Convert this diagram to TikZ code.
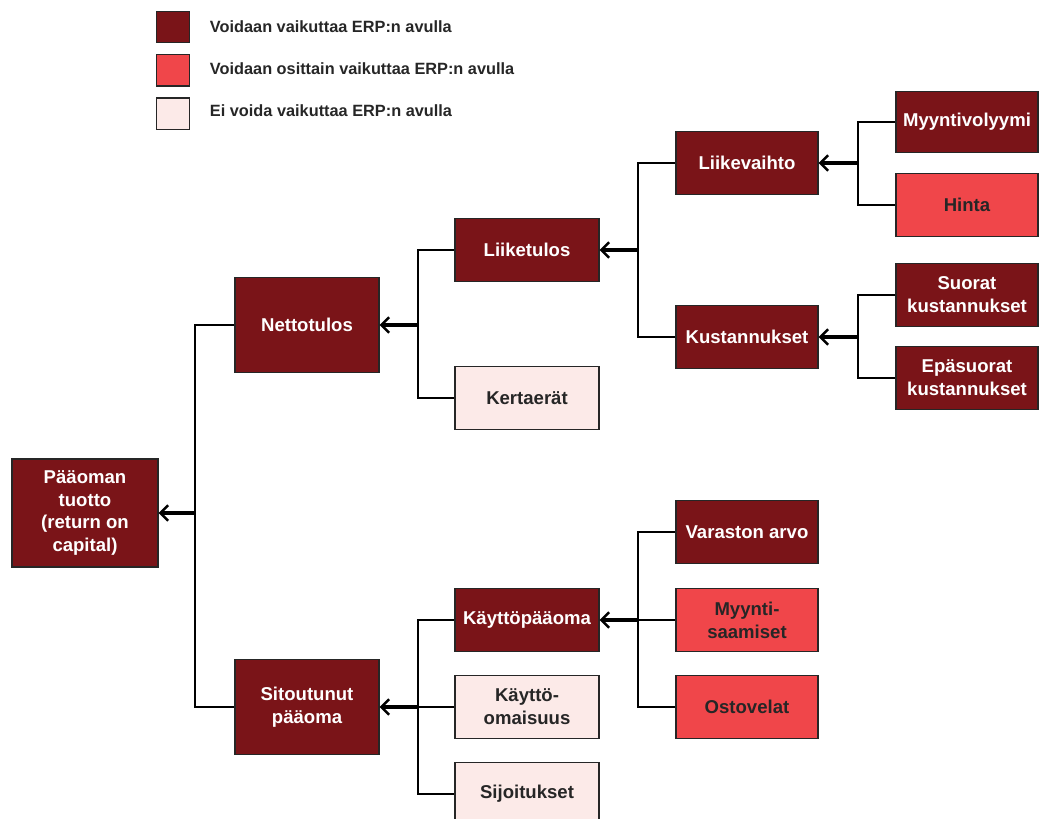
\documentclass[tikz,border=0pt]{standalone}
\usepackage{fontspec}
\setmainfont{Liberation Sans}
\usepackage{xcolor}
\usetikzlibrary{arrows.meta, positioning}

\definecolor{erpdark}{RGB}{122,20,24}
\definecolor{erpmid}{RGB}{240,70,74}
\definecolor{erplight}{RGB}{252,234,232}

\begin{document}
\begin{tikzpicture}[
        x=0.025cm, y=-0.025cm,
        box/.style={rectangle, draw=black!85, line width=0.9pt, align=center, inner sep=2pt,
            font=\bfseries\fontsize{13.2}{16.3}\selectfont, minimum width=3.6cm, minimum height=1.57cm},
        dark/.style={box, fill=erpdark, text=white},
        mid/.style={box, fill=erpmid, text=black!85},
        light/.style={box, fill=erplight, text=black!85},
        key/.style={rectangle, draw=black!85, line width=0.9pt, minimum width=0.82cm, minimum height=0.78cm},
        keytext/.style={anchor=west, font=\bfseries\fontsize{11.6}{14}\selectfont, text=black!85},
        wire/.style={draw, line width=1.6pt},
        line/.style={draw, line width=2.2pt, -{Straight Barb[length=5.5pt, width=11pt, line width=1.8pt]}}
    ]
        \useasboundingbox (0,0) rectangle (1040,818);

        % legend
        \node [key, fill=erpdark] (k1) at (173,27) {};
        \node [key, fill=erpmid, below=0.27cm of k1] (k2) {};
        \node [key, fill=erplight, below=0.27cm of k2] (k3) {};
        \node [keytext] at (205,27) {Voidaan vaikuttaa ERP:n avulla};
        \node [keytext] at (205,69) {Voidaan osittain vaikuttaa ERP:n avulla};
        \node [keytext] at (205,111) {Ei voida vaikuttaa ERP:n avulla};

        % boxes
        \node [dark, minimum width=3.65cm, minimum height=2.7cm] (root) at (85,513) {Pääoman\\tuotto\\(return on\\capital)};
        \node [dark, minimum height=2.38cm] (netto) at (307,325) {Nettotulos};
        \node [dark, minimum height=2.38cm] (sito) at (307,707) {Sitoutunut\\pääoma};
        \node [dark] (liike) at (527,250) {Liiketulos};
        \node [light] (kerta) at (527,398) {Kertaerät};
        \node [dark] (kpo) at (527,620) {Käyttöpääoma};
        \node [light] (komai) at (527,707) {Käyttö-\\omaisuus};
        \node [light] (sijo) at (527,794) {Sijoitukset};
        \node [dark, minimum width=3.55cm] (lv) at (747,163) {Liikevaihto};
        \node [dark, minimum width=3.55cm] (kust) at (747,337) {Kustannukset};
        \node [dark, minimum width=3.55cm] (varasto) at (747,532) {Varaston arvo};
        \node [mid, minimum width=3.55cm] (saam) at (747,620) {Myynti-\\saamiset};
        \node [mid, minimum width=3.55cm] (osto) at (747,707) {Ostovelat};
        \node [dark, minimum width=3.55cm, minimum height=1.53cm] (myvol) at (967,122) {Myyntivolyymi};
        \node [mid, minimum width=3.55cm] (hinta) at (967,205) {Hinta};
        \node [dark, minimum width=3.55cm] (suorat) at (967,295) {Suorat\\kustannukset};
        \node [dark, minimum width=3.55cm] (epas) at (967,378) {Epäsuorat\\kustannukset};

        % junctions
        \coordinate (jroot) at (195,513);
        \coordinate (jnetto) at (418,325);
        \coordinate (jsito) at (418,707);
        \coordinate (jliike) at (638,250);
        \coordinate (jkpo) at (638,620);
        \coordinate (jlv) at (858,163);
        \coordinate (jkust) at (858,337);

        \path [wire] (netto.west) -| (jroot) |- (sito.west);
        \path [wire] (liike.west) -| (jnetto) |- (kerta.west);
        \path [wire] (kpo.west) -| (jsito) |- (sijo.west);
        \path [wire] (komai.west) -- (jsito);
        \path [wire] (lv.west) -| (jliike) |- (kust.west);
        \path [wire] (varasto.west) -| (jkpo) |- (osto.west);
        \path [wire] (saam.west) -- (jkpo);
        \path [wire] (myvol.west) -| (jlv) |- (hinta.west);
        \path [wire] (suorat.west) -| (jkust) |- (epas.west);

        \path [line] (jroot) -- (root.east);
        \path [line] (jnetto) -- (netto.east);
        \path [line] (jsito) -- (sito.east);
        \path [line] (jliike) -- (liike.east);
        \path [line] (jkpo) -- (kpo.east);
        \path [line] (jlv) -- (lv.east);
        \path [line] (jkust) -- (kust.east);
    \end{tikzpicture}
\end{document}
